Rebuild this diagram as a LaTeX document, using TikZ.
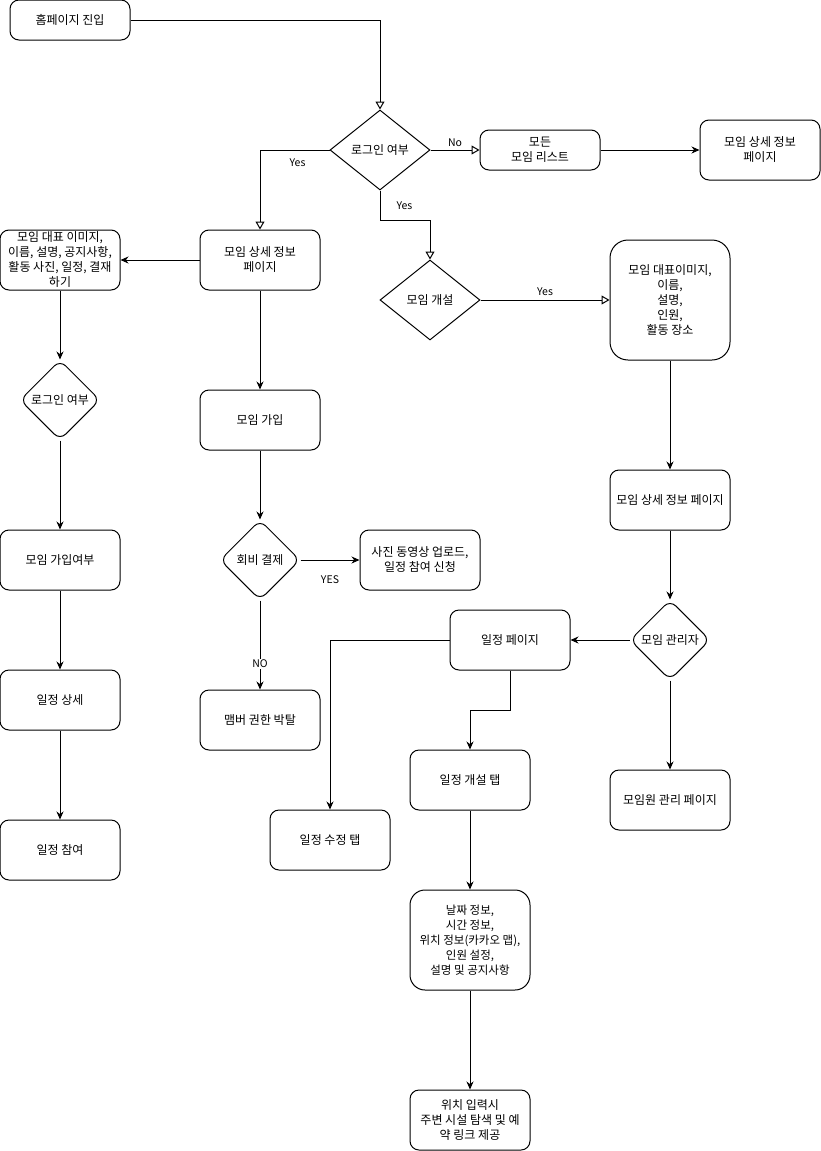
\documentclass[tikz,border=0pt]{standalone}
\usepackage{fontspec}
\setmainfont{Noto Sans CJK KR}
\usetikzlibrary{arrows.meta,positioning,shapes.geometric}

\begin{document}
\begin{tikzpicture}[
  x=1pt, y=-1pt,
  font=\fontsize{12}{15}\selectfont,
  box/.style={
    rectangle, draw=black, line width=1pt, rounded corners=9pt,
    minimum width=120pt, minimum height=60pt, align=center, inner sep=1pt
  },
  tallbox/.style={box, rounded corners=18pt, minimum height=120pt},
  dec/.style={
    diamond, draw=black, line width=1pt, aspect=1.25,
    minimum width=100pt, minimum height=80pt, inner sep=0pt, align=center
  },
  rdec/.style={dec, aspect=1, minimum width=80pt, rounded corners=8pt},
  arr/.style={-{Stealth[length=8pt,width=7pt]}, line width=1pt},
  oarr/.style={-{Triangle[open,length=8pt,width=9pt]}, line width=1pt},
  lbl/.style={font=\fontsize{10.5}{12}\selectfont, inner sep=1pt},
]
\useasboundingbox (0,0) rectangle (821,1151);

% top row
\node[box, minimum height=40pt] (home) at (70,20) {홈페이지 진입};
\node[dec] (login) at (380,150) {로그인 여부};
\node[box, minimum height=40pt] (list) at (540,150) {모든\\모임 리스트};
\node[box] (detailTop) at (760,150) {모임 상세 정보\\페이지};

% left columns
\node[box] (detail) at (260,260) {모임 상세 정보\\페이지};
\node[box] (intro) at (60,260) {모임 대표 이미지,\\이름, 설명, 공지사항,\\활동 사진, 일정, 결재\\하기};
\node[rdec] (login2) at (60,400) {로그인 여부};
\node[box] (joincheck) at (60,560) {모임 가입여부};
\node[box] (plandetail) at (60,700) {일정 상세};
\node[box] (planjoin) at (60,850) {일정 참여};
\node[box] (join) at (260,420) {모임 가입};
\node[rdec] (fee) at (260,560) {회비 결제};
\node[box] (upload) at (420,560) {사진 동영상 업로드,\\일정 참여 신청};
\node[box] (revoke) at (260,720) {맴버 권한 박탈};

% right columns
\node[dec] (open) at (430,300) {모임 개설};
\node[tallbox] (form) at (670,300) {모임 대표이미지,\\이름,\\설명,\\인원,\\활동 장소};
\node[box] (detailR) at (670,500) {모임 상세 정보 페이지};
\node[rdec] (admin) at (670,640) {모임 관리자};
\node[box] (plan) at (510,640) {일정 페이지};
\node[box] (member) at (670,800) {모임원 관리 페이지};
\node[box] (edit) at (330,840) {일정 수정 탭};
\node[box] (newtab) at (470,780) {일정 개설 탭};
\node[box, rounded corners=15pt, minimum height=100pt, font=\fontsize{11.5}{15}\selectfont] (fields) at (470,940)
  {날짜 정보,\\시간 정보,\\위치 정보(카카오 맵),\\인원 설정,\\설명 및 공지사항};
\node[box] (place) at (470,1120) {위치 입력시\\주변 시설 탐색 및 예\\약 링크 제공};

% connectors
\draw[oarr] (home.east) -| (login.north);
\draw[oarr] (login.west) -| node[pos=0.23, below=7pt, lbl] {Yes} (detail.north);
\draw[oarr] (login.east) -- node[midway, above=2pt, lbl] {No} (list.west);
\draw[arr] (list.east) -- (detailTop.west);
\draw[oarr] (login.south) -- node[midway, right=15pt, lbl] {Yes} ++(0,30) -| (open.north);
\draw[oarr] (open.east) -- node[midway, above=3pt, lbl] {Yes} (form.west);

\draw[arr] (detail.west) -- (intro.east);
\draw[arr] (intro.south) -- (login2.north);
\draw[arr] (login2.south) -- (joincheck.north);
\draw[arr] (joincheck.south) -- (plandetail.north);
\draw[arr] (plandetail.south) -- (planjoin.north);
\draw[arr] (detail.south) -- (join.north);
\draw[arr] (join.south) -- (fee.north);
\draw[arr] (fee.east) -- node[midway, below=14pt, lbl] {YES} (upload.west);
\draw[arr] (fee.south) -- node[pos=0.71, fill=white, lbl] {NO} (revoke.north);

\draw[arr] (form.south) -- (detailR.north);
\draw[arr] (detailR.south) -- (admin.north);
\draw[arr] (admin.west) -- (plan.east);
\draw[arr] (admin.south) -- (member.north);
\draw[arr] (plan.west) -| (edit.north);
\draw[arr] (plan.south) -- ++(0,40) -| (newtab.north);
\draw[arr] (newtab.south) -- (fields.north);
\draw[arr] (fields.south) -- (place.north);

\end{tikzpicture}
\end{document}
